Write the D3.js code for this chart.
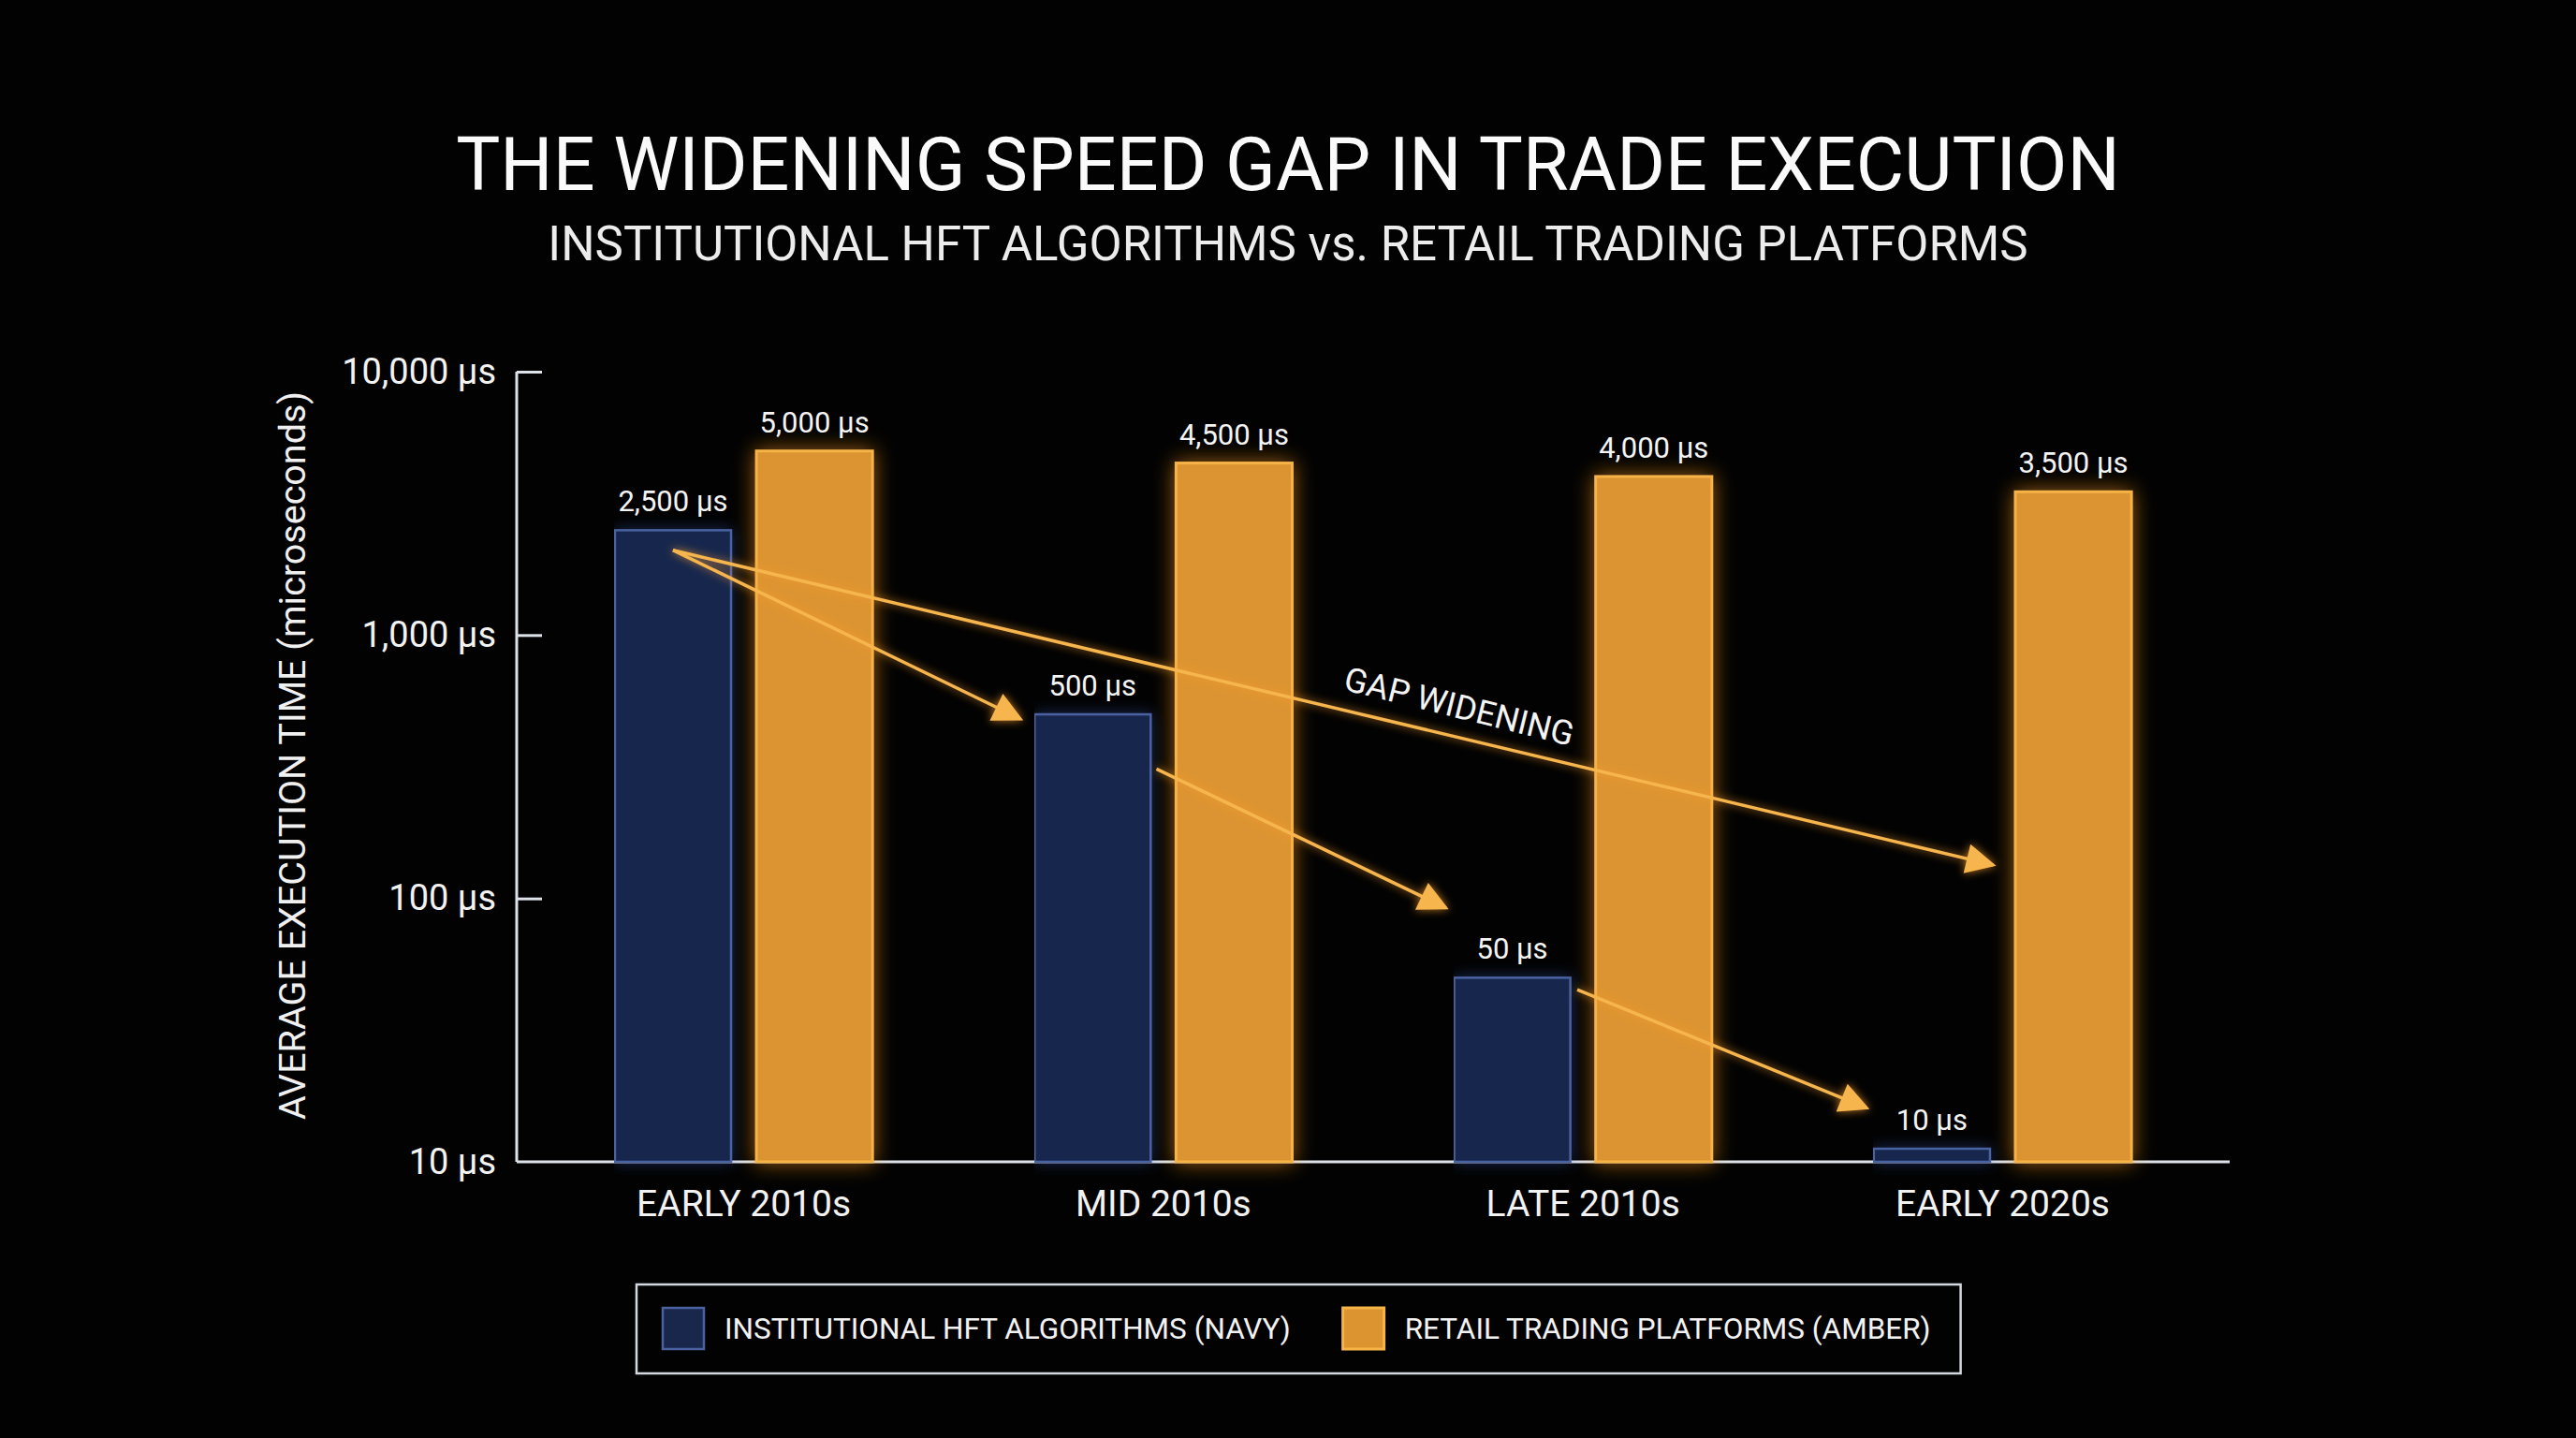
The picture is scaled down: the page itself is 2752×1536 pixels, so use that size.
<!DOCTYPE html>
<html>
<head>
<meta charset="utf-8">
<style>
body { margin: 0; background: #000; }
svg { display: block; background: #020202; font-family: Roboto, "Noto Sans", sans-serif; }
.axis path, .axis line { stroke: #dde1e8; stroke-width: 3; fill: none; }
.axis text { fill: #f2f2f2; font-size: 38px; font-family: Roboto, sans-serif; }
.axis.x text { font-size: 39px; }
.title { fill: #fafafa; font-size: 79px; text-anchor: middle; }
.subtitle { fill: #ececec; font-size: 51px; text-anchor: middle; }
.ylabel { fill: #f0f0f0; font-size: 39.5px; text-anchor: middle; }
.vlabel { fill: #f4f4f4; font-size: 31px; text-anchor: middle; }
.bar-hft { fill: #19274d; stroke: #4a62a0; stroke-width: 2.5; }
.bar-retail { fill: #dc9431; stroke: #f6b347; stroke-width: 3; }
.trend { stroke: #f6b54e; stroke-width: 3.5; fill: none; }
.gap-text { fill: #f4f4f4; font-size: 36px; text-anchor: middle; }
.legend-box { fill: none; stroke: #d4d8df; stroke-width: 2.5; }
.legend text { fill: #f2f2f2; font-size: 31.5px; }
</style>
</head>
<body>
<svg width="2752" height="1536"></svg>
<script src="https://cdn.jsdelivr.net/npm/d3@7"></script>
<script>
// data
var categories = ["EARLY 2010s", "MID 2010s", "LATE 2010s", "EARLY 2020s"];
var series = ["hft", "retail"];
var hftValues = [2500, 500, 50, 10];
var retailValues = [5000, 4500, 4000, 3500];
var yTicks = [10, 100, 1000, 10000];
var legendLabels = ["INSTITUTIONAL HFT ALGORITHMS (NAVY)", "RETAIL TRADING PLATFORMS (AMBER)"];

// annotation arrows: category index, series, fraction across the bar, value
var trendArrows = [
  {c0: 0, s0: "hft", f0: 0.5,  v0: 2100, c1: 1, s1: "hft", f1: -0.12, v1: 480},
  {c0: 1, s0: "hft", f0: 1.05, v0: 310,  c1: 2, s1: "hft", f1: -0.07, v1: 92},
  {c0: 2, s0: "hft", f0: 1.06, v0: 45,   c1: 3, s1: "hft", f1: -0.06, v1: 16}
];
var gapArrow = {c0: 0, s0: "hft", f0: 0.5, v0: 2100, c1: 3, s1: "retail", f1: -0.19, v1: 134};

var svg = d3.select("svg"),
    margin = {top: 397, right: 370, bottom: 295, left: 552},
    W = +svg.attr("width"),
    H = +svg.attr("height");

var x0 = d3.scaleBand()
  .domain(categories)
  .range([margin.left, W - margin.right])
  .paddingInner(0.386)
  .paddingOuter(0.234);

var x1 = d3.scaleBand()
  .domain(series)
  .range([0, x0.bandwidth()])
  .paddingInner(0.179);

var y = d3.scaleLog()
  .domain([10, 10000])
  .range([H - margin.bottom, margin.top]);

var minBar = 14; // keep the floor-level bar visible
var fmt = function(d) { return d3.format(",")(d) + " \u03bcs"; };

// glow filters
var defs = svg.append("defs");
function glow(id, color, sd, op) {
  var f = defs.append("filter").attr("id", id)
    .attr("filterUnits", "userSpaceOnUse")
    .attr("x", 0).attr("y", 0).attr("width", W).attr("height", H);
  f.append("feGaussianBlur").attr("in", "SourceAlpha").attr("stdDeviation", sd).attr("result", "b");
  f.append("feFlood").attr("flood-color", color).attr("flood-opacity", op).attr("result", "c");
  f.append("feComposite").attr("in", "c").attr("in2", "b").attr("operator", "in").attr("result", "g");
  var m = f.append("feMerge");
  m.append("feMergeNode").attr("in", "g");
  m.append("feMergeNode").attr("in", "SourceGraphic");
}
glow("glowAmber", "#ff9a1c", 11, 0.6);
glow("glowNavy", "#3558b0", 8, 0.45);
glow("glowArrow", "#ffa02a", 5, 0.75);

defs.append("marker")
  .attr("id", "head")
  .attr("viewBox", "0 0 10 10")
  .attr("refX", 9).attr("refY", 5)
  .attr("markerUnits", "userSpaceOnUse")
  .attr("markerWidth", 38).attr("markerHeight", 32)
  .attr("orient", "auto")
  .append("path")
  .attr("d", "M0,0 L10,5 L0,10 Z")
  .attr("fill", "#f6b54e");

// titles
svg.append("text").attr("class", "title")
  .attr("x", W / 2).attr("y", 203)
  .text("THE WIDENING SPEED GAP IN TRADE EXECUTION");
svg.append("text").attr("class", "subtitle")
  .attr("x", W / 2).attr("y", 278)
  .text("INSTITUTIONAL HFT ALGORITHMS vs. RETAIL TRADING PLATFORMS");

// axes
var gy = svg.append("g")
  .attr("class", "axis y")
  .attr("transform", "translate(" + margin.left + ",0)")
  .call(d3.axisLeft(y)
    .tickValues(yTicks)
    .tickFormat(fmt)
    .tickSizeInner(-27)
    .tickSizeOuter(0)
    .tickPadding(22));
gy.selectAll(".tick line").filter(function(d) { return d === 10; }).remove();
gy.select(".domain").remove();
gy.append("line")
  .attr("x1", 0).attr("x2", 0)
  .attr("y1", y(10000)).attr("y2", y(10));

var gx = svg.append("g")
  .attr("class", "axis x")
  .attr("transform", "translate(0," + y(10) + ")")
  .call(d3.axisBottom(x0).tickSize(0).tickPadding(30));
gx.select(".domain").remove();
gx.append("line")
  .attr("x1", margin.left).attr("x2", W - margin.right)
  .attr("y1", 0).attr("y2", 0);

svg.append("text").attr("class", "ylabel")
  .attr("transform", "translate(312,807) rotate(-90)")
  .attr("dy", "0.35em")
  .text("AVERAGE EXECUTION TIME (microseconds)");

// bars
var rows = categories.map(function(c, i) {
  return {cat: c, vals: [{s: "hft", v: hftValues[i]}, {s: "retail", v: retailValues[i]}]};
});
var barTop = function(d) { return Math.min(y(d.v), y(10) - minBar); };

var groups = svg.append("g").selectAll("g")
  .data(rows)
  .enter().append("g")
  .attr("transform", function(d) { return "translate(" + x0(d.cat) + ",0)"; });

groups.selectAll("rect")
  .data(function(d) { return d.vals; })
  .enter().append("rect")
  .attr("class", function(d) { return "bar-" + d.s; })
  .attr("filter", function(d) { return d.s === "hft" ? "url(#glowNavy)" : "url(#glowAmber)"; })
  .attr("x", function(d) { return x1(d.s); })
  .attr("width", x1.bandwidth())
  .attr("y", barTop)
  .attr("height", function(d) { return y(10) - barTop(d); });

groups.selectAll("text")
  .data(function(d) { return d.vals; })
  .enter().append("text")
  .attr("class", "vlabel")
  .attr("x", function(d) { return x1(d.s) + x1.bandwidth() / 2; })
  .attr("y", function(d) { return barTop(d) - 20; })
  .text(function(d) { return fmt(d.v); });

// arrows
function px(c, s, f) { return x0(categories[c]) + x1(s) + f * x1.bandwidth(); }
var ga = svg.append("g").attr("filter", "url(#glowArrow)");
ga.selectAll("line")
  .data(trendArrows.concat([gapArrow]))
  .enter().append("line")
  .attr("class", "trend")
  .attr("marker-end", "url(#head)")
  .attr("x1", function(d) { return px(d.c0, d.s0, d.f0); })
  .attr("y1", function(d) { return y(d.v0); })
  .attr("x2", function(d) { return px(d.c1, d.s1, d.f1); })
  .attr("y2", function(d) { return y(d.v1); });

// gap label along long arrow
var gx1 = px(gapArrow.c0, gapArrow.s0, gapArrow.f0), gy1 = y(gapArrow.v0),
    gx2 = px(gapArrow.c1, gapArrow.s1, gapArrow.f1), gy2 = y(gapArrow.v1);
var ang = Math.atan2(gy2 - gy1, gx2 - gx1) * 180 / Math.PI;
var t = 0.59;
svg.append("text").attr("class", "gap-text")
  .attr("transform", "translate(" + (gx1 + t * (gx2 - gx1)) + "," + (gy1 + t * (gy2 - gy1)) + ") rotate(" + (ang + 0.5) + ") translate(0,-20)")
  .text("GAP WIDENING");

// legend
var lg = svg.append("g").attr("class", "legend");
var box = lg.append("rect").attr("class", "legend-box")
  .attr("x", 680).attr("y", 1372).attr("height", 95);
var lx = 708;
legendLabels.forEach(function(lab, i) {
  lg.append("rect")
    .attr("class", i === 0 ? "bar-hft" : "bar-retail")
    .attr("x", lx).attr("y", 1397).attr("width", 44).attr("height", 44);
  var tx = lg.append("text")
    .attr("x", lx + 66).attr("y", 1419).attr("dy", "0.35em")
    .text(lab);
  lx = lx + 66 + tx.node().getComputedTextLength() + 56;
});
box.attr("width", lx - 56 + 32 - 680);
</script>
</body>
</html>
